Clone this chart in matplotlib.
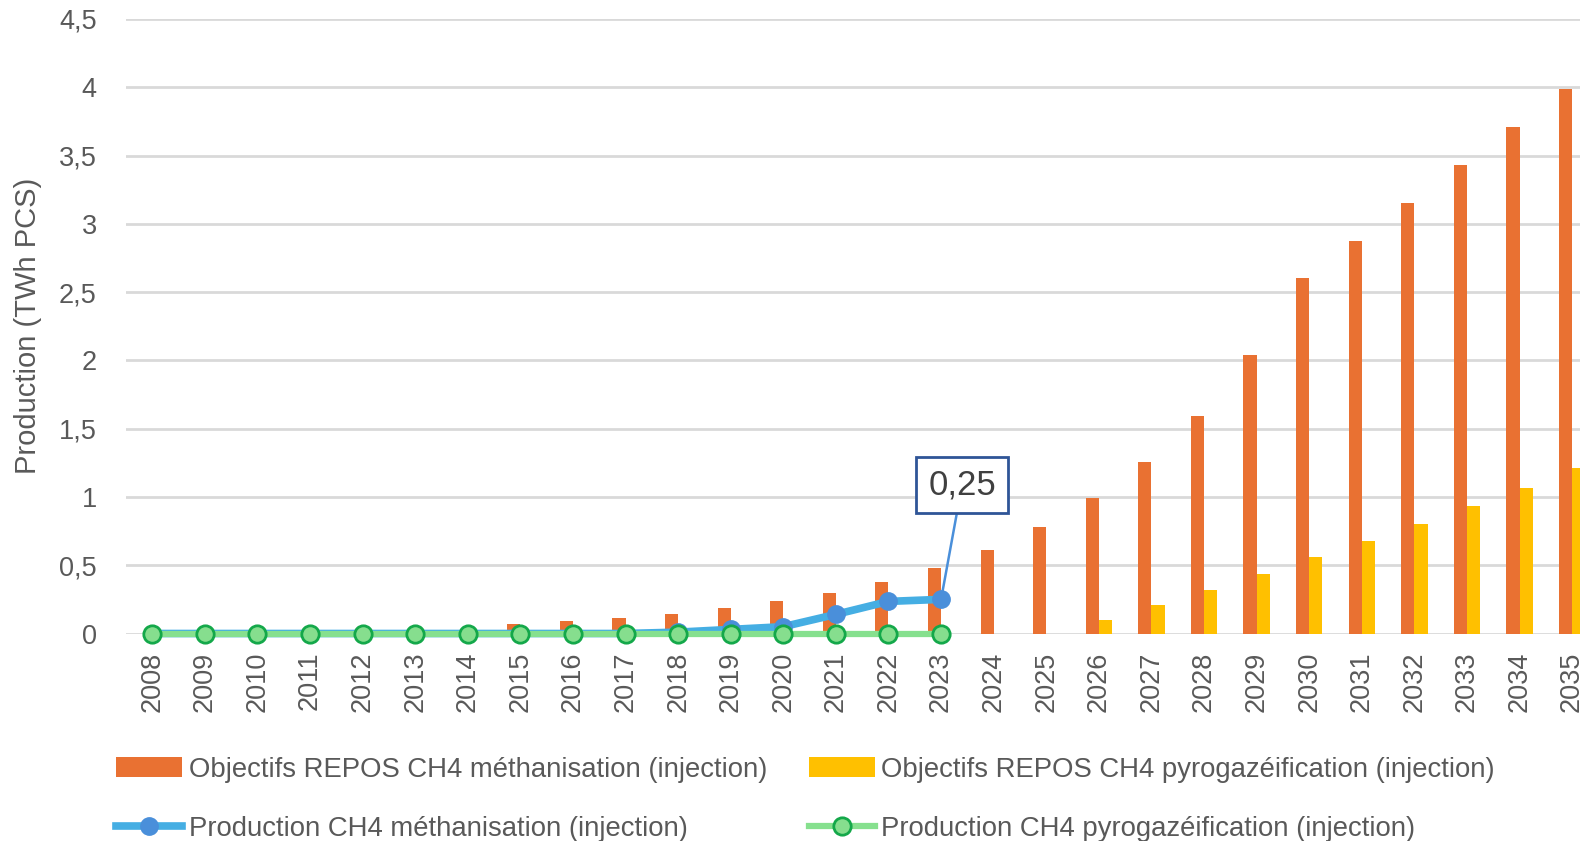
import matplotlib
matplotlib.use("Agg")
import matplotlib.pyplot as plt
from matplotlib.lines import Line2D
from matplotlib.patches import Patch
import numpy as np

plt.rcParams['font.family'] = ['Liberation Sans', 'DejaVu Sans']

years = [str(y) for y in range(2008, 2036)]
obj_metha = [0, 0, 0, 0, 0, 0, 0, 0.068, 0.092, 0.117, 0.141, 0.187, 0.235, 0.296,
             0.379, 0.476, 0.609, 0.777, 0.99, 1.256, 1.595, 2.04, 2.60, 2.876,
             3.153, 3.433, 3.71, 3.99]
obj_pyro = [0, 0, 0, 0, 0, 0, 0, 0, 0, 0, 0, 0, 0, 0, 0, 0, 0, 0,
            0.099, 0.206, 0.317, 0.437, 0.557, 0.68, 0.80, 0.933, 1.066, 1.21]
prod_years = years[:16]
prod_metha = [0, 0, 0, 0, 0, 0, 0, 0, 0, 0, 0.01, 0.03, 0.05, 0.14, 0.235, 0.25]
prod_pyro = [0] * 16
yticks = [0, 0.5, 1, 1.5, 2, 2.5, 3, 3.5, 4, 4.5]
ytick_labels = ["0", "0,5", "1", "1,5", "2", "2,5", "3", "3,5", "4", "4,5"]

labels = ["Objectifs REPOS CH4 méthanisation (injection)",
          "Objectifs REPOS CH4 pyrogazéification (injection)",
          "Production CH4 méthanisation (injection)",
          "Production CH4 pyrogazéification (injection)"]

ORANGE = "#E97132"
YELLOW = "#FFC000"
BLUE_LINE = "#45AEE3"
BLUE_MK = "#4A8FDA"
GREEN_LINE = "#86E08E"
GREEN_MK = "#86DE8E"
GREEN_EDGE = "#14A84A"
TXT = "#595959"
GRID = "#D9D9D9"

W, H = 1580, 841
fig = plt.figure(figsize=(W / 100, H / 100), dpi=100)
ax = fig.add_axes([126 / W, 1 - 633.5 / H, 1 - 126 / W, (633.5 - 19) / H])

x = np.arange(len(years))
bw = 0.25
ax.bar(x - bw / 2, obj_metha, width=bw, color=ORANGE, zorder=2)
ax.bar(x + bw / 2, obj_pyro, width=bw, color=YELLOW, zorder=2)

xp = np.arange(len(prod_years))
ax.plot(xp, prod_metha, color=BLUE_LINE, lw=5.5, marker='o', ms=12.5,
        mfc=BLUE_MK, mec=BLUE_MK, zorder=3, clip_on=False)
ax.plot(xp, prod_pyro, color=GREEN_LINE, lw=4.5, marker='o', ms=12.5,
        mfc=GREEN_MK, mec=GREEN_EDGE, mew=2, zorder=4, clip_on=False)

ax.set_xlim(-0.5, 27.15)
ax.set_ylim(0, 4.5)
ax.set_yticks(yticks)
ax.set_yticklabels(ytick_labels)
ax.set_xticks(x)
ax.set_xticklabels(years, rotation=90)
ax.tick_params(axis='both', length=0, labelsize=19.5, colors=TXT)
ax.tick_params(axis='y', pad=21)
ax.tick_params(axis='x', pad=13)
ax.grid(axis='y', color=GRID, lw=2, zorder=0)
ax.set_axisbelow(True)
for s in ax.spines.values():
    s.set_visible(False)

fig.text(28 / W, 1 - 326 / H, "Production (TWh PCS)", rotation=90,
         ha='center', va='center', fontsize=21, color=TXT)

# data label for last production point
ax.annotate("0,25", xy=(xp[-1], prod_metha[-1]), xytext=(962 / W, 1 - 485 / H),
            textcoords='figure fraction', ha='center', va='center',
            fontsize=25, color="#404040",
            bbox=dict(boxstyle='square,pad=0.34', fc='white', ec="#2F5597", lw=2),
            arrowprops=dict(arrowstyle='-', color="#4A8FDA", lw=1.8,
                            shrinkA=0, shrinkB=6),
            zorder=6)

handles = [
    Patch(facecolor=ORANGE, edgecolor='none'),
    Line2D([], [], color=BLUE_LINE, lw=5.5, marker='o', ms=12.5, mfc=BLUE_MK, mec=BLUE_MK),
    Patch(facecolor=YELLOW, edgecolor='none'),
    Line2D([], [], color=GREEN_LINE, lw=4.5, marker='o', ms=12.5, mfc=GREEN_MK,
           mec=GREEN_EDGE, mew=2),
]
leg_labels = [labels[0], labels[2], labels[1], labels[3]]
leg = fig.legend(handles, leg_labels, ncol=2, loc='upper left',
                 bbox_to_anchor=(116 / W, 1 - 757 / H), frameon=False,
                 fontsize=19.8, handlelength=2.4, handleheight=0.75,
                 handletextpad=0.25, columnspacing=1.5, labelspacing=1.2,
                 borderpad=0, borderaxespad=0)
for t in leg.get_texts():
    t.set_color(TXT)

fig.savefig("out.png", dpi=100)
